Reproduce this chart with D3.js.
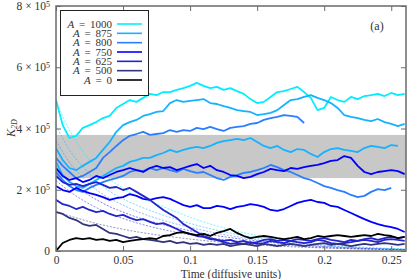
<!DOCTYPE html>
<html>
<head>
<meta charset="utf-8">
<script src="https://cdn.jsdelivr.net/npm/d3@7"></script>
<style>
  html, body { margin: 0; padding: 0; background: #fff; }
  svg { display: block; font-family: "Liberation Serif", "DejaVu Serif", serif; }
</style>
</head>
<body>
<div id="chart"></div>
<script>
// K_2D values are in units of 10^5
const times = [0, 0.005, 0.01, 0.015, 0.02, 0.025, 0.03, 0.035, 0.04, 0.045, 0.05, 0.055, 0.06, 0.065, 0.07, 0.075, 0.08, 0.085, 0.09, 0.095,
    0.1, 0.105, 0.11, 0.115, 0.12, 0.125, 0.13, 0.135, 0.14, 0.145, 0.15, 0.155, 0.16, 0.165, 0.17, 0.175, 0.18, 0.185, 0.19, 0.195,
    0.2, 0.205, 0.21, 0.215, 0.22, 0.225, 0.23, 0.235, 0.24, 0.245, 0.25, 0.255, 0.26];

const k1000 = [4.93,4.11,3.69,3.76,4.02,4.11,4.21,4.34,4.41,4.67,4.80,4.93,4.87,5.00,5.13,5.09,5.19,5.19,5.26,5.32,5.39,5.49,5.39,5.32,5.36,5.26,5.32,5.22,5.13,4.96,4.83,4.87,5.03,5.19,5.22,5.29,5.36,5.19,5.00,4.60,4.67,5.03,4.93,4.87,5.03,4.96,5.06,5.09,5.13,5.06,5.16,5.09,5.13];
const k875a = [3.36,2.97,2.71,2.64,2.78,2.91,3.04,3.30,3.56,3.89,4.11,4.21,4.28,4.41,4.47,4.54,4.57,4.83,4.93,4.87,4.90,4.93,4.96,4.83,4.80,4.73,4.67,4.60,4.57,4.54,4.44,4.47,4.51,4.60,4.77,4.93,4.96,5.03,5.09,5.00,4.93,4.83,4.67,4.44,4.38,4.34,4.28,4.24,4.31,4.21,4.15,4.08,4.15];
const k875b = [2.91,2.48,2.25,2.12,2.06,2.19,2.32,2.45,2.58,2.71,2.78,2.91,2.97,3.04,3.04,3.13,3.20,3.30,3.23,3.30,3.36,3.40,3.36,3.43,3.53,3.59,3.62,3.66,3.62,3.69,3.56,3.43,3.36,3.43,3.30,3.23,3.33,3.30,3.17,3.07,3.23,3.33,3.36,3.30,3.27,3.23,3.36,3.43,3.40,3.36,3.46,3.43];
const k800a = [3.04,2.78,2.58,2.38,2.45,2.58,2.71,3.04,3.23,3.43,3.62,3.76,3.82,3.89,3.79,3.82,3.85,3.95,3.89,3.95,3.92,4.02,3.98,4.05,3.98,3.92,4.02,4.05,4.08,4.15,4.18,4.28,4.34,4.38,4.44,4.41,4.38,4.18];
const k800b = [2.58,2.32,2.12,1.99,1.93,2.06,2.16,2.25,2.32,2.38,2.45,2.58,2.64,2.61,2.71,2.64,2.71,2.64,2.58,2.68,2.61,2.55,2.58,2.48,2.38,2.32,2.42,2.48,2.55,2.58,2.64,2.71,2.81,2.74,2.64,2.58,2.48,2.38,2.32,2.22,2.12,2.06,1.99,1.93,1.83,1.76,1.80,1.93,2.02,1.99,2.06];
const k750a = [2.71,2.45,2.32,2.38,2.25,2.32,2.45,2.38,2.48,2.58,2.64,2.71,2.64,2.58,2.71,2.78,2.71,2.74,2.64,2.71,2.78,2.84,2.71,2.78,2.64,2.58,2.48,2.45,2.38,2.42,2.51,2.58,2.68,2.64,2.61,2.71,2.68,2.74,2.78,2.81,2.87,2.94,2.97,3.10,3.04,2.78,2.58,2.51,2.58,2.61,2.64,2.61,2.51];
const k750b = [2.12,1.99,1.93,2.06,1.96,1.89,1.83,1.76,1.67,1.73,1.76,1.86,1.80,1.70,1.67,1.73,1.76,1.70,1.60,1.50,1.44,1.50,1.40,1.40,1.47,1.44,1.37,1.44,1.47,1.53,1.50,1.44,1.34,1.31,1.37,1.47,1.57,1.63,1.67,1.60,1.57,1.47,1.44,1.34,1.24,1.14,1.04,0.95,0.88,0.82,0.78,0.72,0.62];
const k625a = [2.45,2.25,2.16,2.19,2.12,2.19,2.25,2.16,2.06,2.09,1.99,2.06,1.93,1.80,1.67,1.50,1.34,1.21,1.08,0.88,0.75,0.62,0.49,0.42,0.36,0.29,0.23,0.26,0.23,0.29,0.23,0.26,0.33,0.29,0.26,0.33,0.29,0.26,0.29,0.36,0.33,0.26,0.23,0.26,0.29,0.33,0.36,0.33,0.29,0.36,0.39,0.36,0.33];
const k625b = [1.67,1.53,1.47,1.37,1.44,1.34,1.27,1.31,1.21,1.14,1.18,1.08,1.01,1.04,0.95,0.88,0.91,0.82,0.72,0.62,0.56,0.49,0.46,0.39,0.36,0.33,0.36,0.29,0.33,0.26,0.29,0.36,0.39,0.33,0.36,0.33,0.39,0.36,0.33,0.39,0.42,0.36,0.33,0.29,0.36,0.33,0.39,0.42,0.36,0.42,0.46,0.42,0.46];
const k500 = [1.27,1.21,1.08,1.01,0.88,0.82,0.85,0.72,0.59,0.56,0.49,0.42,0.46,0.39,0.36,0.33,0.29,0.33,0.26,0.29,0.23,0.26,0.20,0.23,0.20,0.23,0.16,0.20,0.23,0.20,0.16,0.23,0.20,0.16,0.20,0.23,0.20,0.16,0.20,0.23,0.26,0.20,0.23,0.20,0.16,0.20,0.23,0.20,0.23,0.26,0.23,0.20,0.23];
const k0 = [0,0.26,0.36,0.42,0.39,0.42,0.36,0.39,0.33,0.36,0.29,0.33,0.36,0.39,0.42,0.39,0.49,0.52,0.59,0.62,0.56,0.52,0.56,0.49,0.59,0.65,0.72,0.59,0.49,0.42,0.46,0.49,0.46,0.42,0.39,0.42,0.46,0.39,0.42,0.49,0.46,0.49,0.52,0.49,0.46,0.49,0.52,0.49,0.56,0.52,0.49,0.42,0.46];

// decay fits (thin dashed curves)
const fitTimes = [0, 0.01, 0.02, 0.03, 0.04, 0.05, 0.06, 0.08, 0.10, 0.12, 0.14, 0.16, 0.18, 0.20, 0.22, 0.24, 0.26];
const fit1000 = [4.9, 3.95, 3.25, 2.75, 2.35, 2.05, 1.8, 1.45, 1.1, 0.82, 0.6, 0.43, 0.3, 0.21, 0.15, 0.1, 0.07];
const fit875 = [4.1, 3.3, 2.75, 2.3, 1.95, 1.7, 1.5, 1.17, 0.9, 0.68, 0.5, 0.36, 0.26, 0.18, 0.12, 0.09, 0.06];
const fit800 = [3.6, 2.9, 2.4, 2.0, 1.72, 1.5, 1.3, 1.0, 0.77, 0.58, 0.43, 0.31, 0.22, 0.16, 0.11, 0.08, 0.05];
const fit750 = [2.7, 2.3, 1.95, 1.68, 1.45, 1.27, 1.11, 0.86, 0.66, 0.5, 0.38, 0.28, 0.2, 0.14, 0.1, 0.07, 0.05];
const fit625 = [2.3, 1.95, 1.66, 1.42, 1.22, 1.06, 0.92, 0.7, 0.53, 0.4, 0.3, 0.22, 0.16, 0.11, 0.08, 0.06, 0.04];
const fit500 = [1.3, 1.15, 1.02, 0.9, 0.8, 0.71, 0.63, 0.5, 0.39, 0.3, 0.23, 0.17, 0.13, 0.1, 0.07, 0.05, 0.04];

// shaded band (×10^5)
const band = [2.38, 3.79];

const xTicks = [0, 0.05, 0.1, 0.15, 0.2, 0.25];
const yTicks = [0, 2, 4, 6, 8];

const groups = [
    { A: '1000', color: '#00eeff', runs: [k1000], fit: fit1000 },
    { A: '875', color: '#16b2ff', runs: [k875a, k875b], fit: fit875 },
    { A: '800', color: '#2a7eff', runs: [k800a, k800b], fit: fit800 },
    { A: '750', color: '#0000ff', runs: [k750a, k750b], fit: fit750 },
    { A: '625', color: '#2424cc', runs: [k625a, k625b], fit: fit625 },
    { A: '500', color: '#34347e', runs: [k500], fit: fit500 },
    { A: '0', color: '#000000', runs: [k0], fit: null }
];

const width = 407, height = 279;
const margin = { top: 6, right: 1, bottom: 28, left: 56 };
const pw = width - margin.left - margin.right;
const ph = height - margin.top - margin.bottom;

const svg = d3.select('#chart').append('svg')
    .attr('width', width)
    .attr('height', height);

const g = svg.append('g').attr('transform', `translate(${margin.left},${margin.top})`);

const x = d3.scaleLinear().domain([0, 0.261]).range([0, pw]);
const y = d3.scaleLinear().domain([0, 8]).range([ph, 0]);

svg.append('defs').append('clipPath').attr('id', 'plot-clip')
    .append('rect').attr('width', pw).attr('height', ph);

const plot = g.append('g').attr('clip-path', 'url(#plot-clip)');

plot.append('rect')
    .attr('x', 0)
    .attr('width', pw)
    .attr('y', y(band[1]))
    .attr('height', y(band[0]) - y(band[1]))
    .attr('fill', '#c8c8c8');

const fitLine = d3.line()
    .x((d, i) => x(fitTimes[i]))
    .y(d => y(d))
    .curve(d3.curveMonotoneX);

plot.append('g')
    .selectAll('path')
    .data(groups.filter(d => d.fit))
    .enter()
    .append('path')
    .attr('d', d => fitLine(d.fit))
    .attr('fill', 'none')
    .attr('stroke', d => d.color)
    .attr('stroke-width', 0.7)
    .attr('stroke-dasharray', '2,1.5')
    .attr('opacity', 0.75);

const runLine = d3.line()
    .x((d, i) => x(times[i]))
    .y(d => y(d));

groups.forEach(grp => {
    plot.append('g')
        .selectAll('path')
        .data(grp.runs)
        .enter()
        .append('path')
        .attr('d', d => runLine(d))
        .attr('fill', 'none')
        .attr('stroke', grp.color)
        .attr('stroke-width', 1.8)
        .attr('stroke-linejoin', 'round');
});

// axes with inward ticks on all four sides
const axisColor = '#6a6a6a';
const xAxis = g.append('g')
    .attr('transform', `translate(0,${ph})`)
    .call(d3.axisBottom(x).tickValues(xTicks).tickSize(-5).tickPadding(5)
        .tickFormat(d => d === 0 ? '0' : String(d)));
const yAxis = g.append('g')
    .call(d3.axisLeft(y).tickValues(yTicks).tickSize(-5).tickPadding(6));
const xTop = g.append('g')
    .call(d3.axisTop(x).tickValues(xTicks).tickSize(-5).tickFormat(''));
const yRight = g.append('g')
    .attr('transform', `translate(${pw},0)`)
    .call(d3.axisRight(y).tickValues(yTicks).tickSize(-5).tickFormat(''));

[xAxis, yAxis, xTop, yRight].forEach(a => {
    a.select('.domain').remove();
    a.selectAll('line').attr('stroke', axisColor);
    a.selectAll('text')
        .attr('font-family', '"Liberation Serif", serif')
        .attr('font-size', 11.5)
        .attr('fill', '#333');
});

yAxis.selectAll('text').each(function(d) {
    if (d === 0) return;
    const t = d3.select(this);
    t.text(null);
    t.append('tspan').text(`${d} × 10`);
    t.append('tspan').attr('dy', '-0.45em').attr('font-size', 8).text('5');
});

g.append('rect')
    .attr('width', pw)
    .attr('height', ph)
    .attr('fill', 'none')
    .attr('stroke', axisColor)
    .attr('stroke-width', 1.5);

// axis titles
svg.append('text')
    .attr('x', 231)
    .attr('y', 277.5)
    .attr('text-anchor', 'middle')
    .attr('font-size', 11.5)
    .attr('fill', '#333')
    .text('Time (diffusive units)');

const yTitle = svg.append('text')
    .attr('transform', 'translate(15,128) rotate(-90)')
    .attr('text-anchor', 'middle')
    .attr('font-size', 12)
    .attr('fill', '#333');
yTitle.append('tspan').attr('font-style', 'italic').text('K');
yTitle.append('tspan').attr('font-style', 'italic').attr('font-size', 8).attr('dy', '0.3em').text('2D');

svg.append('text')
    .attr('x', 377)
    .attr('y', 30)
    .attr('text-anchor', 'middle')
    .attr('font-size', 12)
    .attr('fill', '#333')
    .text('(a)');

// legend
const legend = svg.append('g');
legend.append('rect')
    .attr('x', 60.5)
    .attr('y', 10.5)
    .attr('width', 88)
    .attr('height', 85)
    .attr('fill', '#fff')
    .attr('stroke', '#222')
    .attr('stroke-width', 1);

const rowY = d3.scalePoint().domain(groups.map(d => d.A)).range([24, 80]);

const rows = legend.selectAll('g.row')
    .data(groups)
    .enter()
    .append('g')
    .attr('class', 'row')
    .attr('transform', d => `translate(0,${rowY(d.A)})`);

rows.append('line')
    .attr('x1', 117)
    .attr('x2', 142)
    .attr('stroke', d => d.color)
    .attr('stroke-width', 1.6);

const lt = rows.append('text')
    .attr('x', 112)
    .attr('dy', '0.33em')
    .attr('text-anchor', 'end')
    .attr('font-size', 11)
    .attr('word-spacing', 2)
    .attr('fill', '#333');
lt.append('tspan').attr('font-style', 'italic').text('A');
lt.append('tspan').text(d => ` = ${d.A}`);
</script>
</body>
</html>
